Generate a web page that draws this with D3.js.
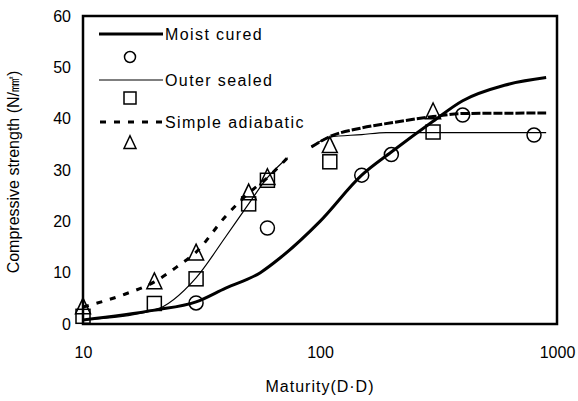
<!DOCTYPE html>
<html>
<head>
<meta charset="utf-8">
<script src="https://cdn.jsdelivr.net/npm/d3@7"></script>
<style>
  body { margin: 0; background: #fff; }
  text { font-family: "Liberation Sans", Arial, sans-serif; fill: #000; }
</style>
</head>
<body>
<svg id="chart" width="578" height="401"></svg>
<script>
// marker data (maturity D·D, strength N/mm2)
var moistX = [30, 60, 150, 200, 400, 800]
var moistY = [4.1, 18.7, 29, 33, 40.7, 36.8]
var sealedX = [10, 20, 30, 50, 60, 110, 300]
var sealedY = [1.5, 4.0, 8.8, 23.4, 28, 31.6, 37.4]
var adiaX = [10, 20, 30, 50, 60, 110, 300]
var adiaY = [3.3, 8.2, 13.8, 25.5, 28.5, 34.7, 41.3]

// fitted curves
var moistCurveX = [10, 20, 30, 40, 56, 68, 100, 150, 200, 300, 400, 600, 900]
var moistCurveY = [0.8, 2.7, 4.3, 7.0, 10, 12.9, 20, 29, 33.5, 39.5, 43.5, 46.5, 48]
var sealedCurveX1 = [10, 20, 30, 40, 50, 60, 73]
var sealedCurveY1 = [0.8, 2.7, 9, 17, 23.4, 28.5, 32.4]
var sealedCurveX2 = [92, 110, 150, 190, 900]
var sealedCurveY2 = [34.5, 36.4, 36.9, 37.3, 37.3]
var adiaCurveX1 = [10, 15, 20, 25, 30, 40, 50, 60, 73]
var adiaCurveY1 = [3.3, 5.8, 8.2, 11.2, 14, 21, 25.5, 28.5, 32.4]
var adiaCurveX2 = [92, 110, 150, 200, 300, 400, 900]
var adiaCurveY2 = [34.5, 36.5, 38.2, 39.2, 40.4, 41, 41.1]

var xTicks = [10, 100, 1000]
var yTicks = [0, 10, 20, 30, 40, 50, 60]

var svg = d3.select("#chart"),
    margin = {top: 16, left: 83, bottom: 77, right: 21},
    width = +svg.attr("width"),
    height = +svg.attr("height");

var x = d3.scaleLog().domain([10, 1000]).range([margin.left, width - margin.right])
var y = d3.scaleLinear().domain([0, 60]).range([height - margin.bottom, margin.top])

var zip = (xs, ys) => xs.map((v, i) => [v, ys[i]])

var line = d3.line()
    .x(d => x(d[0]))
    .y(d => y(d[1]))
    .curve(d3.curveMonotoneX)

// axes
svg.append("g")
    .attr("transform", `translate(0,${height - margin.bottom})`)
    .call(d3.axisBottom(x).tickValues(xTicks).tickFormat(d3.format("d")).tickSize(0).tickPadding(23))
    .call(g => g.select(".domain").remove())
    .selectAll("text").style("font-size", "16px").style("font-family", null)

svg.append("g")
    .attr("transform", `translate(${margin.left},0)`)
    .call(d3.axisLeft(y).tickValues(yTicks).tickSize(0).tickPadding(12))
    .call(g => g.select(".domain").remove())
    .selectAll("text").style("font-size", "16px").style("font-family", null)

// frame
svg.append("rect")
    .attr("x", margin.left).attr("y", margin.top)
    .attr("width", width - margin.left - margin.right)
    .attr("height", height - margin.top - margin.bottom)
    .attr("fill", "none").attr("stroke", "#000").attr("stroke-width", 2.5)

// curves
svg.append("path").datum(zip(moistCurveX, moistCurveY))
    .attr("d", line).attr("fill", "none").attr("stroke", "#000").attr("stroke-width", 3)
svg.append("path").datum(zip(sealedCurveX1, sealedCurveY1))
    .attr("d", line).attr("fill", "none").attr("stroke", "#000").attr("stroke-width", 1.2)
svg.append("path").datum(zip(sealedCurveX2, sealedCurveY2))
    .attr("d", line).attr("fill", "none").attr("stroke", "#000").attr("stroke-width", 1.2)
svg.append("path").datum(zip(adiaCurveX1, adiaCurveY1))
    .attr("d", line).attr("fill", "none").attr("stroke", "#000").attr("stroke-width", 3)
    .attr("stroke-dasharray", "6,8")
svg.append("path").datum(zip(adiaCurveX2, adiaCurveY2))
    .attr("d", line).attr("fill", "none").attr("stroke", "#000").attr("stroke-width", 3)
    .attr("stroke-dasharray", "9,2")

// markers
function triPath(cx, cy, s) {
  return `M${cx},${cy - s * 0.6}L${cx + s / 2},${cy + s * 0.45}L${cx - s / 2},${cy + s * 0.45}Z`
}

svg.append("g").selectAll("circle")
    .data(zip(moistX, moistY)).join("circle")
    .attr("cx", d => x(d[0])).attr("cy", d => y(d[1])).attr("r", 7)
    .attr("fill", "none").attr("stroke", "#000").attr("stroke-width", 1.5)

svg.append("g").selectAll("rect")
    .data(zip(sealedX, sealedY)).join("rect")
    .attr("x", d => x(d[0]) - 7).attr("y", d => y(d[1]) - 7)
    .attr("width", 14).attr("height", 14)
    .attr("fill", "none").attr("stroke", "#000").attr("stroke-width", 1.5)

svg.append("g").selectAll("path")
    .data(zip(adiaX, adiaY)).join("path")
    .attr("d", d => triPath(x(d[0]), y(d[1]), 15))
    .attr("fill", "none").attr("stroke", "#000").attr("stroke-width", 1.5)

// legend
var lg = svg.append("g").style("font-size", "16px").style("letter-spacing", "1.4px")
lg.append("line").attr("x1", 99).attr("x2", 163).attr("y1", 34).attr("y2", 34)
    .attr("stroke", "#000").attr("stroke-width", 3)
lg.append("text").attr("x", 165).attr("y", 34).attr("dy", "0.35em").text("Moist cured")
lg.append("circle").attr("cx", 130).attr("cy", 57).attr("r", 5.5)
    .attr("fill", "none").attr("stroke", "#000").attr("stroke-width", 1.5)
lg.append("line").attr("x1", 99).attr("x2", 163).attr("y1", 80).attr("y2", 80)
    .attr("stroke", "#000").attr("stroke-width", 1.2)
lg.append("text").attr("x", 165).attr("y", 80).attr("dy", "0.35em").text("Outer sealed")
lg.append("rect").attr("x", 124).attr("y", 92).attr("width", 12).attr("height", 12)
    .attr("fill", "none").attr("stroke", "#000").attr("stroke-width", 1.5)
lg.append("line").attr("x1", 100).attr("x2", 163).attr("y1", 122).attr("y2", 122)
    .attr("stroke", "#000").attr("stroke-width", 3).attr("stroke-dasharray", "6,8")
lg.append("text").attr("x", 165).attr("y", 122).attr("dy", "0.35em").text("Simple adiabatic")
lg.append("path").attr("d", triPath(130, 143, 12))
    .attr("fill", "none").attr("stroke", "#000").attr("stroke-width", 1.5)

// titles
svg.append("text")
    .attr("x", (margin.left + width - margin.right) / 2).attr("y", 392)
    .attr("text-anchor", "middle").style("font-size", "16px").style("letter-spacing", "1px")
    .text("Maturity(D·D)")

svg.append("text")
    .attr("transform", `translate(19,172) rotate(-90)`)
    .attr("text-anchor", "middle").style("font-size", "16px")
    .text("Compressive strength (N/㎟)")
</script>
</body>
</html>
